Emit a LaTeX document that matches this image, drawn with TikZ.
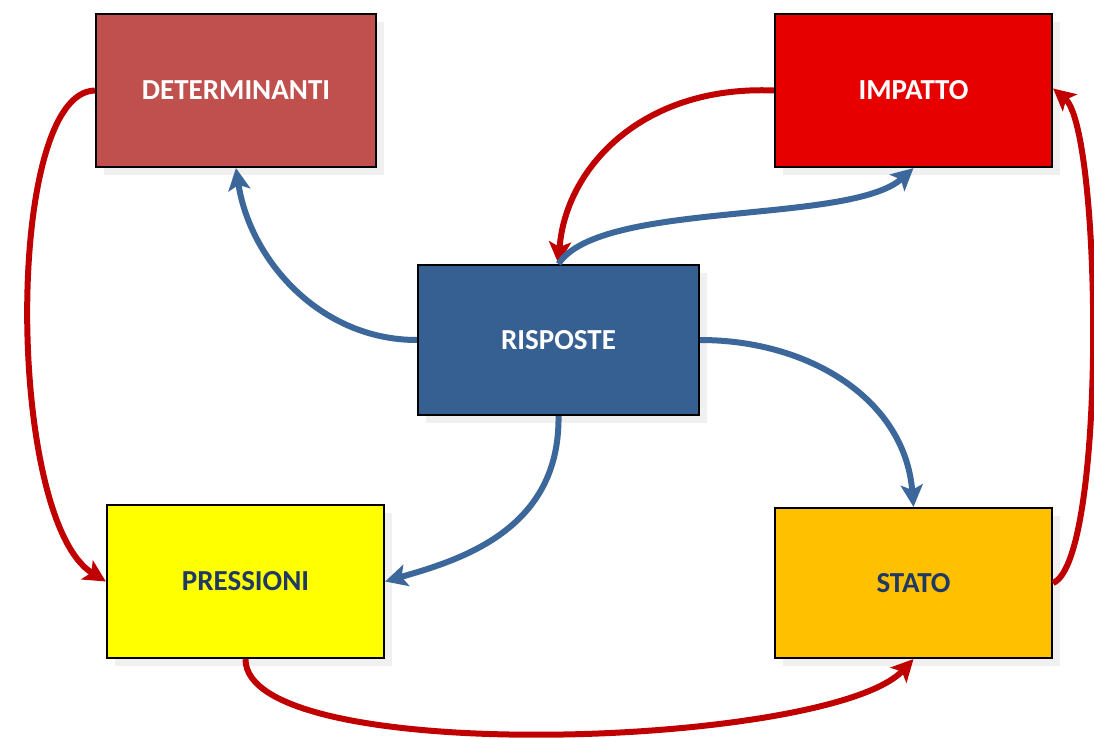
\documentclass[tikz,border=0pt]{standalone}
\usepackage{fontspec}
\setmainfont{Carlito}
\usetikzlibrary{arrows.meta,shadows}
\definecolor{detc}{HTML}{C0504D}
\definecolor{impc}{HTML}{E60000}
\definecolor{risc}{HTML}{376092}
\definecolor{prec}{HTML}{FFFF00}
\definecolor{stac}{HTML}{FFC000}
\definecolor{darktext}{HTML}{1F3864}
\definecolor{redarrow}{HTML}{C00000}
\definecolor{bluearrow}{HTML}{3B679A}
\tikzset{
  box/.style={draw=black, line width=1.1pt, inner sep=0pt,
    font=\fontsize{14.5}{17}\selectfont\bfseries,
    general shadow={fill=black!6, shadow xshift=4pt, shadow yshift=-4pt}},
  conn/.style={line width=3pt, -{Stealth[length=11pt,width=11pt,inset=2.5pt]}},
  redconn/.style={conn, draw=redarrow, color=redarrow},
  blueconn/.style={conn, draw=bluearrow, color=bluearrow}
}
\begin{document}
\begin{tikzpicture}[x=0.5pt,y=-0.5pt]
\useasboundingbox (0,0) rectangle (1094,738);
\fill[white] (0,0) rectangle (1094,738);

\node[box, fill=detc, text=white, minimum width=140pt, minimum height=76.5pt] (det) at (236,90.5) {DETERMINANTI};
\node[box, fill=impc, text=white, minimum width=138.5pt, minimum height=76.5pt] (imp) at (913.5,90.5) {IMPATTO};
\node[box, fill=risc, text=white, minimum width=140.5pt, minimum height=75pt] (ris) at (558.5,340) {RISPOSTE};
\node[box, fill=prec, text=darktext, minimum width=138.5pt, minimum height=76.5pt] (pre) at (245.5,581.5) {PRESSIONI};
\node[box, fill=stac, text=darktext, minimum width=138.5pt, minimum height=75pt] (sta) at (913.5,583) {STATO};

% red cycle
\draw[redconn] (det.west) .. controls (4,92) and (6,520) .. (pre.west);
\draw[redconn] (pre.south) .. controls (245,768) and (830,748) .. (sta.south);
\draw[redconn] (sta.east) .. controls (1107,560) and (1102,130) .. ([yshift=1pt]imp.east);
\draw[redconn] (imp.west) .. controls (640,85) and (565,170) .. (ris.north);

% blue from RISPOSTE
\draw[blueconn] (ris.north) .. controls (600,200) and (850,225) .. (imp.south);
\draw[blueconn] (ris.west) .. controls (320,340) and (250,260) .. (det.south);
\draw[blueconn] (ris.east) .. controls (810,340) and (905,400) .. (sta.north);
\draw[blueconn] (ris.south) .. controls (560,530) and (460,560) .. (pre.east);
\end{tikzpicture}
\end{document}
